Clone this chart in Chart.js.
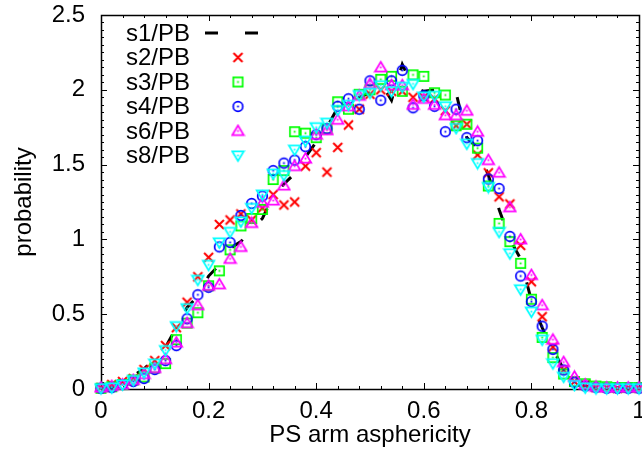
<!DOCTYPE html>
<html><head><meta charset="utf-8">
<script src="https://cdn.jsdelivr.net/npm/chart.js@4.4.0/dist/chart.umd.min.js"></script>
<style>html,body{margin:0;padding:0;background:#fff;}#wrap{width:642px;height:450px;}</style>
</head><body><div id="wrap"><canvas id="c" width="642" height="450"></canvas></div>
<script>
const asphericity = [0.00,0.02,0.04,0.06,0.08,0.10,0.12,0.14,0.16,0.18,0.20,0.22,0.24,0.26,0.28,0.30,0.32,0.34,0.36,0.38,0.40,0.42,0.44,0.46,0.48,0.50,0.52,0.54,0.56,0.58,0.60,0.62,0.64,0.66,0.68,0.70,0.72,0.74,0.76,0.78,0.80,0.82,0.84,0.86,0.88,0.90,0.92,0.94,0.96,0.98,1.00];
const s1PB = [0,0.01,0.04,0.09,0.135,0.2,0.28,0.41,0.545,0.62,0.755,0.83,0.94,0.985,1.07,1.14,1.29,1.37,1.44,1.55,1.65,1.75,1.88,1.9,1.95,1.98,2.05,1.93,2.17,2.02,1.99,2.0,2.0,1.98,1.68,1.61,1.43,1.2,1.0,0.87,0.59,0.41,0.265,0.13,0.05,0.02,0.005,0,0,0,0];
const s2PB = [0.01,0.03,0.05,0.07,0.13,0.19,0.29,0.41,0.58,0.75,0.88,1.10,1.13,1.17,1.13,1.21,1.30,1.23,1.25,1.49,1.58,1.45,1.615,1.765,1.87,1.97,2.00,1.99,1.99,1.95,1.95,1.94,1.86,1.76,1.77,1.565,1.445,1.285,1.237,0.96,0.717,0.483,0.28,0.127,0.05,0.03,0.01,0.01,0.005,0.01,0.005];
const s3PB = [0.005,0.015,0.03,0.06,0.08,0.14,0.17,0.33,0.44,0.51,0.69,0.79,0.93,1.09,1.14,1.20,1.40,1.46,1.72,1.71,1.68,1.74,1.92,1.87,1.97,2.0,2.07,2.09,1.99,2.10,2.09,1.98,1.965,1.76,1.77,1.61,1.357,1.107,0.985,0.84,0.60,0.345,0.21,0.10,0.05,0.035,0.02,0.015,0.01,0.01,0.01];
const s4PB = [0.005,0.01,0.03,0.05,0.07,0.13,0.19,0.29,0.47,0.63,0.68,0.95,0.98,1.16,1.24,1.29,1.46,1.51,1.53,1.62,1.70,1.74,1.89,1.94,1.87,2.06,1.93,2.06,2.13,1.88,1.96,1.89,1.72,1.87,1.68,1.66,1.404,1.34,1.02,0.755,0.584,0.42,0.265,0.127,0.045,0.02,0.01,0.005,0.005,0.005,0.005];
const s6PB = [0.01,0.02,0.03,0.06,0.10,0.14,0.20,0.31,0.44,0.56,0.69,0.70,0.87,0.95,1.11,1.245,1.26,1.36,1.49,1.54,1.70,1.73,1.80,1.89,1.96,2.04,2.15,2.03,2.03,1.90,1.94,1.90,1.83,1.83,1.86,1.72,1.53,1.446,1.215,1.0,0.762,0.56,0.33,0.18,0.082,0.03,0.015,0.01,0.01,0.01,0.01];
const s8PB = [0.005,0.01,0.03,0.06,0.11,0.17,0.26,0.42,0.54,0.73,0.83,0.98,1.05,1.12,1.21,1.30,1.44,1.43,1.60,1.66,1.75,1.78,1.865,1.90,1.965,1.98,2.03,1.99,2.02,2.04,1.955,1.96,1.89,1.745,1.64,1.51,1.35,1.05,0.907,0.666,0.517,0.33,0.172,0.082,0.027,0.01,0.005,0.005,0.005,0.005,0.005];
const seriesLabels = ['s1/PB','s2/PB','s3/PB','s4/PB','s6/PB','s8/PB'];
const xTickLabels = ['0','0.2','0.4','0.6','0.8','1'];
const yTickLabels = ['0','0.5','1','1.5','2','2.5'];
const xTitle = 'PS arm asphericity';
const yTitle = 'probability';

const FONT = '"Liberation Sans", Arial, sans-serif';
const FS = 24;

function makeMarker(kind, color) {
  const s = 15, m = 7.5;
  const c = document.createElement('canvas'); c.width = s; c.height = s;
  const g = c.getContext('2d');
  g.strokeStyle = color; g.fillStyle = color; g.lineWidth = 1.7;
  g.beginPath();
  if (kind === 'cross') {
    g.lineWidth = 2;
    g.moveTo(m-4.5,m-4.5); g.lineTo(m+4.5,m+4.5); g.moveTo(m+4.5,m-4.5); g.lineTo(m-4.5,m+4.5); g.stroke();
    return c;
  }
  if (kind === 'square') g.rect(m-4.7,m-4.7,9.4,9.4);
  if (kind === 'circle') g.arc(m,m,4.8,0,Math.PI*2);
  if (kind === 'tri') { g.moveTo(m,m-5.5); g.lineTo(m+5.8,m+4.2); g.lineTo(m-5.8,m+4.2); g.closePath(); }
  if (kind === 'itri') { g.moveTo(m,m+5.5); g.lineTo(m+5.8,m-4.2); g.lineTo(m-5.8,m-4.2); g.closePath(); }
  g.stroke();
  g.fillRect(m-0.9,m-0.9,1.8,1.8);
  return c;
}

const markerDefs = [
  null,
  {kind:'cross', color:'#ff0000'},
  {kind:'square', color:'#00ff00'},
  {kind:'circle', color:'#0000ff'},
  {kind:'tri', color:'#ff00ff'},
  {kind:'itri', color:'#00ffff'}
];
const markers = markerDefs.map(d => d ? makeMarker(d.kind, d.color) : null);
const allSeries = [s1PB, s2PB, s3PB, s4PB, s6PB, s8PB];
const DASH = [13, 27];

const datasets = allSeries.map((s, i) => {
  const pts = asphericity.map((x, k) => ({x: x, y: s[k]}));
  if (i === 0) {
    return {label: seriesLabels[i], data: pts, showLine: true, borderColor: '#000', borderWidth: 3,
      borderDash: DASH, pointRadius: 0, pointHoverRadius: 0, fill: false, tension: 0, order: 10, clip: false};
  }
  return {label: seriesLabels[i], data: pts, showLine: false, pointStyle: markers[i], pointRadius: 5,
    pointHoverRadius: 5, borderColor: markerDefs[i].color, backgroundColor: 'transparent', order: 6 - i, clip: false};
});

const framePlugin = {
  id: 'frame',
  beforeDatasetsDraw(chart) {
    const {ctx, chartArea: a, scales: {x, y}} = chart;
    ctx.save();
    ctx.strokeStyle = '#000'; ctx.lineWidth = 1;
    ctx.beginPath();
    for (let i = 0; i <= 25; i++) {
      const v = i * 0.04; const px = Math.round(x.getPixelForValue(v)) + 0.5;
      const len = (i % 5 === 0) ? 6 : 3;
      ctx.moveTo(px, a.bottom); ctx.lineTo(px, a.bottom - len);
      ctx.moveTo(px, a.top); ctx.lineTo(px, a.top + len);
    }
    for (let i = 0; i <= 50; i++) {
      const v = i * 0.05; const py = Math.round(y.getPixelForValue(v)) + 0.5;
      const len = (i % 10 === 0) ? 6 : 3;
      ctx.moveTo(a.left, py); ctx.lineTo(a.left + len, py);
      ctx.moveTo(a.right, py); ctx.lineTo(a.right - len, py);
    }
    ctx.stroke();
    ctx.lineWidth = 1.5;
    ctx.strokeRect(Math.round(a.left)+0.5, Math.round(a.top)+0.5, Math.round(a.right-a.left), Math.round(a.bottom-a.top));
    ctx.restore();
  }
};

const keyPlugin = {
  id: 'key',
  afterDatasetsDraw(chart) {
    const ctx = chart.ctx;
    ctx.save();
    ctx.font = FS + 'px ' + FONT;
    ctx.fillStyle = '#000'; ctx.textAlign = 'right'; ctx.textBaseline = 'middle';
    const rowY = [33, 57.5, 82, 106.5, 131, 155.5];
    seriesLabels.forEach((lab, i) => {
      ctx.fillText(lab, 190, rowY[i] + 1);
      if (i === 0) {
        ctx.save(); ctx.strokeStyle = '#000'; ctx.lineWidth = 3; ctx.setLineDash(DASH);
        ctx.beginPath(); ctx.moveTo(205, rowY[i]); ctx.lineTo(271, rowY[i]); ctx.stroke(); ctx.restore();
      } else {
        const mk = markers[i];
        ctx.drawImage(mk, 238 - mk.width/2, rowY[i] - mk.height/2);
      }
    });
    ctx.restore();
  }
};

function noPad(s) { s.paddingTop = 0; s.paddingBottom = 0; s.paddingLeft = 0; s.paddingRight = 0; }

new Chart(document.getElementById('c'), {
  type: 'scatter',
  data: {datasets},
  options: {
    responsive: false, animation: false, devicePixelRatio: 1,
    layout: {padding: {left: 0, right: 3, top: 15, bottom: 0}, autoPadding: false},
    plugins: {legend: {display: false}, tooltip: {enabled: false}},
    scales: {
      x: {type: 'linear', min: 0, max: 1,
        grid: {display: false, drawTicks: false}, border: {display: false},
        ticks: {stepSize: 0.2, autoSkip: false, maxRotation: 0, padding: 8, color: '#000',
          font: {family: FONT, size: FS}, callback: (v, i) => xTickLabels[i]},
        title: {display: true, text: xTitle, color: '#000', font: {family: FONT, size: FS}, padding: {top: 0, bottom: 0}},
        afterFit: s => { s.height = 61; noPad(s); }
      },
      y: {type: 'linear', min: 0, max: 2.5,
        grid: {display: false, drawTicks: false}, border: {display: false},
        ticks: {stepSize: 0.5, autoSkip: false, padding: 16, color: '#000',
          font: {family: FONT, size: FS}, callback: (v, i) => yTickLabels[i]},
        title: {display: true, text: yTitle, color: '#000', font: {family: FONT, size: FS}, padding: {top: 10, bottom: 0}},
        afterFit: s => { s.width = 101; noPad(s); }
      }
    }
  },
  plugins: [framePlugin, keyPlugin]
});
</script></body></html>
